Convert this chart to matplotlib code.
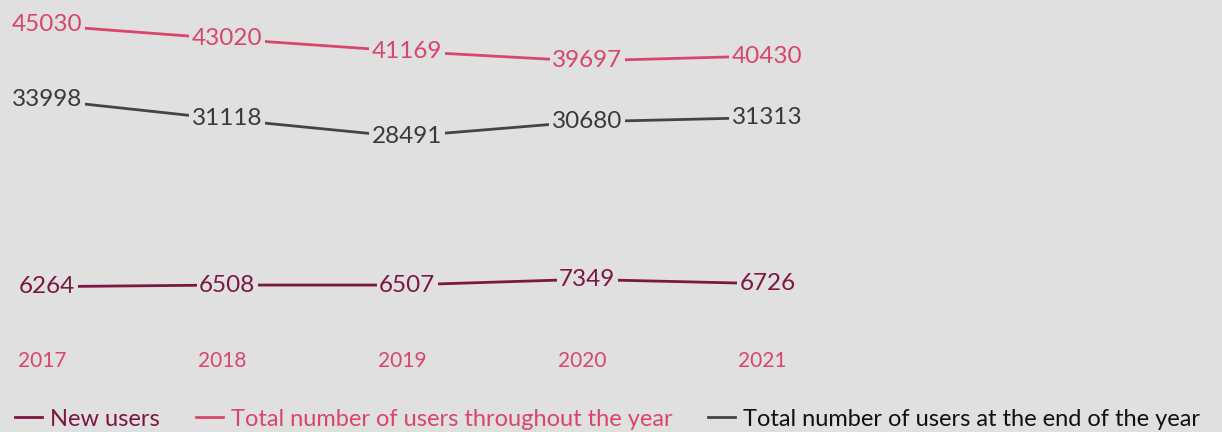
import matplotlib
matplotlib.use("Agg")
import matplotlib.pyplot as plt

# data
years = ["2017", "2018", "2019", "2020", "2021"]
new_users = [6264, 6508, 6507, 7349, 6726]
total_throughout = [45030, 43020, 41169, 39697, 40430]
total_end = [33998, 31118, 28491, 30680, 31313]

series_names = ["New users",
                "Total number of users throughout the year",
                "Total number of users at the end of the year"]

BG = "#e0e0e0"
PINK = "#d9466b"
MAROON = "#7b1743"
GRAY = "#444444"

plt.rcParams['font.family'] = ['Lato', 'DejaVu Sans']

fig = plt.figure(figsize=(12.22, 4.32), dpi=100, facecolor=BG)
ax = fig.add_axes([0, 0.213, 1, 0.787], facecolor=BG)

x = list(range(len(years)))
series = [(new_users, MAROON, MAROON),
          (total_throughout, PINK, PINK),
          (total_end, GRAY, "#3a3a3a")]

lines = []
for (vals, col, txtcol), name in zip(series, series_names):
    ln, = ax.plot(x, vals, color=col, lw=2, label=name, zorder=2)
    lines.append(ln)
    for xi, v in zip(x, vals):
        ax.text(xi + 0.03, v, str(v), ha="center", va="center", fontsize=17.5,
                color=txtcol, zorder=3,
                bbox=dict(facecolor=BG, edgecolor="none", pad=2))

ax.set_xlim(-0.233, 6.556)
ax.set_ylim(-1630, 48730)
ax.set_xticks(x)
ax.set_xticklabels(years, color=PINK, fontsize=15)
ax.tick_params(axis="x", length=0, pad=8)
ax.set_yticks([])
for s in ax.spines.values():
    s.set_visible(False)

leg = fig.legend(handles=lines, loc="center left", bbox_to_anchor=(15 / 1222, 13 / 432),
                 ncol=3, frameon=False, fontsize=17, handlelength=1.15,
                 handletextpad=0.35, columnspacing=1.5, borderpad=0,
                 borderaxespad=0)
for t, c in zip(leg.get_texts(), [MAROON, PINK, "#111111"]):
    t.set_color(c)

fig.savefig("out.png", dpi=100, facecolor=BG)
